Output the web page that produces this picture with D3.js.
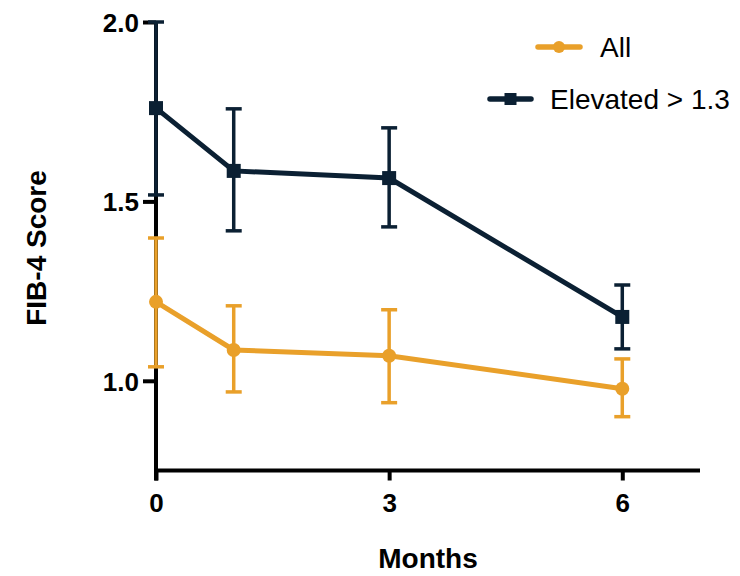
<!DOCTYPE html>
<html><head><meta charset="utf-8">
<script src="https://cdn.jsdelivr.net/npm/d3@7"></script>
<style>body{margin:0;background:#fff}svg{display:block}</style>
</head><body>
<svg id="c" width="740" height="576"></svg>
<script>
const months = [0, 1, 3, 6];
const allMean = [1.22, 1.086, 1.07, 0.978];
const allLow = [1.039, 0.969, 0.939, 0.90];
const allHigh = [1.398, 1.209, 1.198, 1.061];
const elevMean = [1.76, 1.585, 1.565, 1.178];
const elevLow = [1.518, 1.418, 1.429, 1.089];
const elevHigh = [2.0, 1.758, 1.705, 1.267];
const xTicks = [0, 3, 6];
const yTicks = [1.0, 1.5, 2.0];
const seriesNames = ["All", "Elevated > 1.3"];

const navy = "#0b2033", orange = "#e9a02a";
const svg = d3.select("#c");
const x = d3.scaleLinear().domain([0, 7]).range([156, 700]);
const y = d3.scaleLinear().domain([0.75, 2.0]).range([470.5, 22]);
const font = "Arial, 'Liberation Sans', sans-serif";

// axes
const yAxis = svg.append("g").attr("transform", "translate(156,0)")
  .call(d3.axisLeft(y).tickValues(yTicks).tickFormat(d3.format(".1f")).tickSize(13).tickSizeOuter(0));
const xAxis = svg.append("g").attr("transform", "translate(0,470.5)")
  .call(d3.axisBottom(x).tickValues(xTicks).tickFormat(d3.format("d")).tickSize(10).tickSizeOuter(0));
[yAxis, xAxis].forEach(g => {
  g.attr("font-size", null).attr("font-family", null);
  g.select(".domain").attr("stroke", "#000").attr("stroke-width", 4);
  g.selectAll(".tick line").attr("stroke", "#000").attr("stroke-width", 4);
  g.selectAll("text").attr("fill", "#000").style("font-family", font).style("font-weight", "bold").style("font-size", "26px");
});
yAxis.select(".domain").attr("d", `M0,${y(2.0)}V${470.5 + 10}`);
xAxis.select(".domain").attr("d", `M156,0H700`);
yAxis.selectAll(".tick text").attr("x", -17).attr("dy", "0.36em");
xAxis.selectAll(".tick text").attr("y", 41).attr("dy", null);

// titles
svg.append("text").attr("transform", "translate(46,248) rotate(-90)")
  .attr("text-anchor", "middle").style("font-family", font).style("font-weight", "bold").style("font-size", "28px")
  .text("FIB-4 Score");
svg.append("text").attr("x", 428).attr("y", 568)
  .attr("text-anchor", "middle").style("font-family", font).style("font-weight", "bold").style("font-size", "28px")
  .text("Months");

function drawSeries(mean, low, high, color, shape) {
  const g = svg.append("g");
  const data = months.map((m, i) => ({m, v: mean[i], lo: low[i], hi: high[i]}));
  g.selectAll("line.eb").data(data).join("line")
    .attr("x1", d => x(d.m)).attr("x2", d => x(d.m))
    .attr("y1", d => y(d.lo)).attr("y2", d => y(d.hi))
    .attr("stroke", color).attr("stroke-width", 3.5);
  ["lo", "hi"].forEach(k => {
    g.selectAll("line.cap" + k).data(data).join("line")
      .attr("x1", d => x(d.m) - 8).attr("x2", d => x(d.m) + 8)
      .attr("y1", d => y(d[k])).attr("y2", d => y(d[k]))
      .attr("stroke", color).attr("stroke-width", 3.5);
  });
  g.append("path").datum(data)
    .attr("d", d3.line().x(d => x(d.m)).y(d => y(d.v)))
    .attr("fill", "none").attr("stroke", color).attr("stroke-width", 5);
  if (shape === "circle") {
    g.selectAll("circle").data(data).join("circle")
      .attr("cx", d => x(d.m)).attr("cy", d => y(d.v)).attr("r", 7).attr("fill", color);
  } else {
    g.selectAll("rect").data(data).join("rect")
      .attr("x", d => x(d.m) - 7).attr("y", d => y(d.v) - 7)
      .attr("width", 14).attr("height", 14).attr("fill", color);
  }
}
drawSeries(allMean, allLow, allHigh, orange, "circle");
drawSeries(elevMean, elevLow, elevHigh, navy, "square");

// legend
const leg = svg.append("g");
const legItems = [
  {name: seriesNames[0], color: orange, shape: "circle", x1: 538, x2: 580, y: 47, tx: 600},
  {name: seriesNames[1], color: navy, shape: "square", x1: 490, x2: 531, y: 99, tx: 550}
];
legItems.forEach(it => {
  leg.append("line").attr("x1", it.x1).attr("x2", it.x2).attr("y1", it.y).attr("y2", it.y)
    .attr("stroke", it.color).attr("stroke-width", 5.5).attr("stroke-linecap", "round");
  const cx = (it.x1 + it.x2) / 2;
  if (it.shape === "circle") leg.append("circle").attr("cx", cx).attr("cy", it.y).attr("r", 6).attr("fill", it.color);
  else leg.append("rect").attr("x", cx - 6).attr("y", it.y - 6).attr("width", 12).attr("height", 12).attr("fill", it.color);
  leg.append("text").attr("x", it.tx).attr("y", it.y).attr("dy", "0.36em")
    .style("font-family", font).style("font-size", "28px").attr("fill", "#000").text(it.name);
});
</script>
</body></html>
